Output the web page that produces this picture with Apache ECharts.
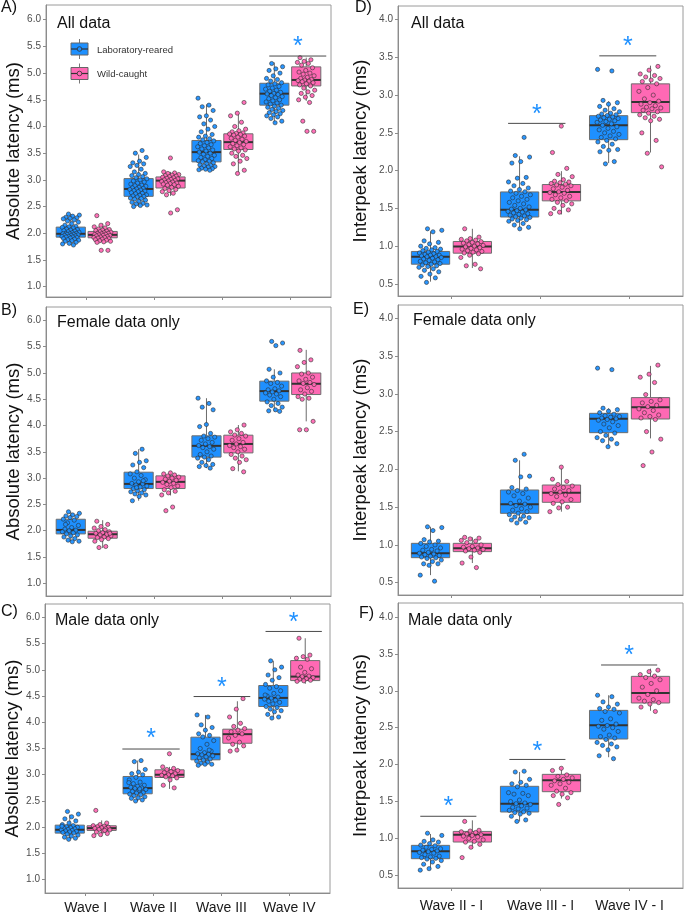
<!DOCTYPE html>
<html><head><meta charset="utf-8">
<script src="https://cdn.jsdelivr.net/npm/echarts@6/dist/echarts.min.js"></script>
<style>html,body{margin:0;padding:0;background:#fff}#c{width:686px;height:916px}</style>
</head><body><div id="c"></div>
<script>
// ---------------- DATA ----------------
const waveCats = ['Wave I', 'Wave II', 'Wave III', 'Wave IV'];
const ipCats = ['Wave II - I', 'Wave III - I', 'Wave IV - I'];
const absTicks = [1.0, 1.5, 2.0, 2.5, 3.0, 3.5, 4.0, 4.5, 5.0, 5.5, 6.0];
const ipTicks = [0.5, 1.0, 1.5, 2.0, 2.5, 3.0, 3.5, 4.0];
const groupNames = ['Laboratory-reared', 'Wild-caught'];
const panelTitles = ['All data', 'Female data only', 'Male data only'];

// box stats per category: [lower whisker, Q1, median, Q3, upper whisker]
const absAllLab  = [[1.78,1.927,1.99,2.115,2.36],[2.50,2.692,2.83,3.024,3.475],[3.18,3.337,3.52,3.738,4.415],[4.07,4.40,4.615,4.81,5.20]];
const absAllWild = [[1.83,1.915,1.97,2.034,2.18],[2.70,2.848,2.986,3.055,3.15],[3.13,3.569,3.707,3.863,4.245],[4.48,4.76,4.872,5.117,5.29]];
const absFemLab  = [[1.79,1.939,2.015,2.218,2.36],[2.57,2.802,2.89,3.113,3.55],[3.19,3.40,3.614,3.805,4.52],[4.27,4.464,4.655,4.845,5.07]];
const absFemWild = [[1.67,1.857,1.933,1.99,2.20],[2.67,2.802,2.929,3.043,3.10],[3.13,3.48,3.65,3.817,4.01],[4.08,4.59,4.795,5.00,5.44]];
const absMaleLab = [[1.77,1.888,1.952,2.04,2.24],[2.50,2.637,2.745,2.967,3.27],[3.17,3.284,3.392,3.716,4.14],[4.09,4.30,4.464,4.70,5.17]];
const absMaleWild= [[1.82,1.939,1.983,2.028,2.13],[2.73,2.948,3.00,3.094,3.15],[3.43,3.60,3.773,3.868,4.40],[4.73,4.794,4.87,5.175,5.60]];
const ipAllLab   = [[0.53,0.761,0.859,0.93,1.195],[1.23,1.386,1.483,1.718,2.19],[2.10,2.41,2.60,2.728,2.92]];
const ipAllWild  = [[0.71,0.907,0.996,1.062,1.23],[1.42,1.60,1.718,1.816,1.993],[2.24,2.768,2.91,3.149,3.39]];
const ipFemLab   = [[0.60,0.831,0.889,1.021,1.24],[1.33,1.418,1.538,1.727,2.12],[2.30,2.486,2.67,2.742,2.81]];
const ipFemWild  = [[0.76,0.911,0.955,1.021,1.10],[1.44,1.564,1.692,1.793,2.04],[2.41,2.667,2.822,2.95,3.37]];
const ipMaleLab  = [[0.58,0.725,0.825,0.906,1.06],[1.23,1.358,1.47,1.706,1.90],[2.10,2.347,2.532,2.735,2.94]];
const ipMaleWild = [[0.86,0.951,1.05,1.095,1.245],[1.54,1.633,1.787,1.868,1.97],[2.73,2.835,2.97,3.196,3.30]];

// individual animals, one array per category
const absAllLabPts = [
  [2.36,2.34,2.32,2.30,2.29,2.28,2.27,2.25,2.23,2.21,2.18,2.15,2.13,2.12,2.11,2.10,2.08,2.07,2.06,2.05,2.04,2.03,2.02,2.01,2.00,2.00,1.99,1.99,1.98,1.98,1.97,1.96,1.96,1.95,1.94,1.94,1.93,1.93,1.92,1.91,1.90,1.89,1.88,1.87,1.86,1.85,1.83,1.81,1.80,1.78],
  [3.55,3.50,3.42,3.35,3.32,3.30,3.27,3.25,3.20,3.15,3.12,3.10,3.08,3.06,3.04,3.02,3.00,2.98,2.96,2.94,2.92,2.90,2.89,2.88,2.86,2.85,2.84,2.83,2.82,2.81,2.80,2.79,2.78,2.76,2.75,2.74,2.72,2.71,2.70,2.69,2.68,2.66,2.65,2.64,2.62,2.60,2.58,2.56,2.55,2.53,2.52,2.50],
  [4.53,4.40,4.37,4.30,4.20,4.18,4.12,4.05,4.00,3.95,3.90,3.85,3.82,3.80,3.77,3.75,3.73,3.70,3.68,3.66,3.64,3.62,3.60,3.58,3.56,3.54,3.52,3.50,3.48,3.46,3.44,3.42,3.40,3.38,3.36,3.35,3.34,3.32,3.30,3.28,3.27,3.26,3.25,3.24,3.22,3.21,3.20,3.19,3.18],
  [5.18,5.12,5.08,5.05,5.00,4.95,4.90,4.88,4.85,4.82,4.80,4.78,4.75,4.72,4.70,4.68,4.66,4.64,4.62,4.61,4.60,4.58,4.56,4.54,4.52,4.50,4.48,4.46,4.44,4.42,4.40,4.38,4.36,4.34,4.32,4.30,4.28,4.26,4.24,4.22,4.20,4.18,4.15,4.10,4.07]
];
const absAllWildPts = [
  [2.33,2.18,2.15,2.12,2.10,2.08,2.07,2.06,2.05,2.04,2.03,2.02,2.01,2.00,2.00,1.99,1.98,1.98,1.97,1.96,1.96,1.95,1.94,1.93,1.92,1.92,1.91,1.90,1.89,1.88,1.87,1.86,1.85,1.84,1.83,1.68,1.68],
  [3.41,3.15,3.13,3.12,3.10,3.09,3.08,3.07,3.06,3.05,3.04,3.03,3.02,3.01,3.00,2.99,2.98,2.97,2.96,2.95,2.94,2.93,2.92,2.91,2.90,2.88,2.86,2.84,2.82,2.80,2.78,2.75,2.72,2.44,2.38],
  [4.45,4.25,4.20,4.08,4.00,3.95,3.92,3.90,3.88,3.87,3.86,3.85,3.84,3.82,3.80,3.78,3.76,3.74,3.72,3.70,3.68,3.66,3.64,3.62,3.60,3.58,3.56,3.54,3.50,3.46,3.44,3.40,3.35,3.30,3.18,3.12],
  [5.29,5.25,5.22,5.20,5.18,5.15,5.10,5.05,5.02,5.00,4.98,4.95,4.92,4.90,4.88,4.87,4.86,4.85,4.84,4.82,4.80,4.78,4.76,4.72,4.68,4.65,4.62,4.58,4.55,4.50,4.45,4.10,3.91,3.91]
];
const absFemLabPts = [
  [2.36,2.33,2.30,2.28,2.27,2.25,2.22,2.20,2.15,2.10,2.06,2.03,2.01,2.00,1.98,1.96,1.94,1.92,1.90,1.88,1.85,1.82,1.80,1.79,2.12],
  [3.55,3.47,3.33,3.30,3.25,3.20,3.12,3.08,3.05,3.00,2.97,2.93,2.90,2.89,2.87,2.85,2.83,2.80,2.78,2.76,2.74,2.72,2.70,2.68,2.65,2.57,2.95,2.82],
  [4.52,4.42,4.35,4.30,4.02,3.98,3.85,3.80,3.78,3.75,3.72,3.68,3.65,3.62,3.60,3.58,3.55,3.50,3.45,3.42,3.40,3.38,3.35,3.30,3.26,3.24,3.22,3.19],
  [5.60,5.57,5.52,5.07,5.00,4.92,4.85,4.82,4.80,4.75,4.70,4.68,4.66,4.64,4.62,4.60,4.58,4.55,4.50,4.45,4.42,4.38,4.35,4.30,4.28,4.27]
];
const absFemWildPts = [
  [2.18,2.12,2.08,2.05,2.02,2.00,1.98,1.96,1.95,1.93,1.92,1.90,1.88,1.87,1.85,1.83,1.80,1.70,1.68,1.95],
  [3.10,3.08,3.06,3.04,3.02,3.00,2.98,2.96,2.94,2.92,2.90,2.88,2.85,2.82,2.78,2.75,2.72,2.68,2.45,2.38],
  [4.01,3.92,3.88,3.85,3.82,3.80,3.75,3.72,3.68,3.65,3.62,3.60,3.58,3.55,3.50,3.45,3.42,3.38,3.35,3.30,3.18,3.12],
  [5.43,5.25,5.20,5.12,5.00,4.98,4.92,4.88,4.85,4.82,4.80,4.78,4.72,4.68,4.65,4.60,4.55,4.52,4.50,4.08,3.92,3.92]
];
const absMaleLabPts = [
  [2.30,2.25,2.20,2.16,2.12,2.08,2.05,2.03,2.01,2.00,1.99,1.98,1.97,1.96,1.95,1.94,1.93,1.92,1.91,1.90,1.89,1.87,1.85,1.83,1.81,1.79,1.77,2.02],
  [3.27,3.25,3.10,3.05,3.02,3.00,2.95,2.90,2.86,2.83,2.80,2.78,2.76,2.75,2.74,2.72,2.70,2.68,2.66,2.65,2.63,2.62,2.60,2.58,2.56,2.55,2.52,2.50,2.85,2.73],
  [4.14,4.10,3.95,3.90,3.85,3.78,3.75,3.72,3.65,3.58,3.50,3.45,3.42,3.40,3.39,3.38,3.36,3.34,3.32,3.30,3.28,3.26,3.24,3.22,3.20,3.20,3.18,3.47],
  [5.17,5.05,5.00,4.90,4.85,4.80,4.72,4.68,4.65,4.60,4.55,4.50,4.48,4.46,4.44,4.42,4.40,4.38,4.35,4.30,4.28,4.25,4.22,4.20,4.15,4.10,4.08,4.52]
];
const absMaleWildPts = [
  [2.32,2.08,2.05,2.03,2.02,2.01,2.00,1.99,1.98,1.97,1.96,1.95,1.93,1.91,1.88,1.86,1.84,1.94],
  [3.40,3.15,3.12,3.10,3.08,3.06,3.04,3.02,3.00,2.99,2.98,2.96,2.94,2.90,2.80,2.75],
  [4.45,4.25,4.10,3.98,3.92,3.88,3.85,3.82,3.78,3.75,3.70,3.62,3.58,3.55,3.47,3.45],
  [5.60,5.28,5.25,5.22,5.20,5.05,5.02,4.95,4.90,4.88,4.87,4.85,4.83,4.82,4.80,4.79,4.78]
];
const ipAllLabPts = [
  [1.23,1.21,1.19,1.07,1.05,1.03,1.00,0.98,0.97,0.96,0.95,0.94,0.93,0.92,0.91,0.90,0.89,0.88,0.88,0.87,0.86,0.86,0.85,0.84,0.83,0.82,0.81,0.80,0.79,0.78,0.77,0.76,0.75,0.74,0.73,0.72,0.70,0.68,0.66,0.63,0.60,0.58,0.52],
  [2.44,2.20,2.18,2.12,2.10,1.91,1.90,1.85,1.83,1.80,1.77,1.75,1.73,1.72,1.70,1.68,1.66,1.64,1.62,1.60,1.58,1.56,1.54,1.52,1.50,1.49,1.48,1.47,1.46,1.45,1.44,1.43,1.42,1.41,1.40,1.39,1.38,1.37,1.36,1.35,1.34,1.33,1.30,1.28,1.25,1.23],
  [3.34,3.32,2.93,2.90,2.88,2.85,2.82,2.80,2.78,2.76,2.75,2.74,2.73,2.72,2.71,2.70,2.69,2.68,2.67,2.66,2.65,2.64,2.62,2.60,2.58,2.56,2.54,2.52,2.50,2.48,2.46,2.44,2.42,2.40,2.38,2.35,2.32,2.28,2.27,2.25,2.12,2.09]
];
const ipAllWildPts = [
  [1.23,1.12,1.10,1.09,1.08,1.07,1.06,1.05,1.04,1.03,1.02,1.01,1.00,0.99,0.98,0.97,0.96,0.95,0.94,0.93,0.92,0.91,0.90,0.88,0.85,0.76,0.74,0.70],
  [2.59,2.24,2.03,1.95,1.92,1.88,1.86,1.85,1.84,1.83,1.82,1.81,1.80,1.78,1.76,1.74,1.72,1.71,1.70,1.68,1.66,1.64,1.62,1.60,1.58,1.56,1.54,1.50,1.48,1.45,1.43],
  [3.38,3.33,3.28,3.26,3.24,3.22,3.20,3.18,3.15,3.10,3.05,3.00,2.95,2.92,2.90,2.88,2.86,2.84,2.83,2.82,2.80,2.78,2.76,2.74,2.72,2.70,2.68,2.66,2.50,2.40,2.23,2.05]
];
const ipFemLabPts = [
  [1.24,1.23,1.19,1.07,1.05,1.04,1.02,1.00,0.98,0.96,0.94,0.93,0.92,0.90,0.89,0.88,0.87,0.86,0.85,0.84,0.83,0.82,0.80,0.78,0.75,0.75,0.73,0.60,0.52],
  [2.20,2.12,1.91,1.90,1.76,1.74,1.72,1.70,1.68,1.65,1.62,1.58,1.55,1.54,1.52,1.50,1.48,1.46,1.44,1.42,1.40,1.38,1.37,1.36,1.34,1.33,1.30,1.29],
  [3.34,3.32,2.81,2.79,2.77,2.75,2.73,2.71,2.70,2.69,2.68,2.67,2.66,2.65,2.63,2.60,2.58,2.55,2.50,2.48,2.45,2.42,2.40,2.38,2.34,2.30]
];
const ipFemWildPts = [
  [1.10,1.09,1.08,1.06,1.05,1.03,1.00,0.98,0.97,0.96,0.95,0.94,0.93,0.92,0.90,0.84,0.76,0.70],
  [2.03,1.87,1.84,1.80,1.78,1.76,1.74,1.72,1.70,1.68,1.66,1.64,1.60,1.57,1.55,1.50,1.49,1.44],
  [3.38,3.26,3.22,3.15,2.99,2.92,2.90,2.88,2.85,2.83,2.80,2.78,2.75,2.72,2.70,2.68,2.66,2.50,2.40,2.23,2.05]
];
const ipMaleLabPts = [
  [1.07,1.04,0.98,0.96,0.95,0.93,0.91,0.90,0.88,0.86,0.85,0.84,0.83,0.82,0.81,0.80,0.78,0.76,0.75,0.74,0.73,0.72,0.70,0.68,0.65,0.62,0.59,0.57],
  [1.91,1.90,1.80,1.76,1.74,1.72,1.70,1.62,1.61,1.60,1.58,1.52,1.50,1.48,1.47,1.46,1.44,1.42,1.41,1.40,1.38,1.36,1.35,1.34,1.33,1.30,1.25,1.23],
  [2.94,2.92,2.85,2.82,2.78,2.76,2.75,2.72,2.70,2.62,2.60,2.55,2.53,2.52,2.50,2.48,2.45,2.40,2.38,2.36,2.34,2.30,2.28,2.26,2.24,2.20,2.12,2.08]
];
const ipMaleWildPts = [
  [1.23,1.11,1.10,1.09,1.08,1.06,1.05,1.04,1.03,1.02,1.00,0.98,0.96,0.95,0.92,0.88,0.74],
  [1.95,1.92,1.86,1.84,1.82,1.80,1.78,1.76,1.74,1.72,1.68,1.64,1.62,1.60,1.58,1.55,1.46],
  [3.28,3.26,3.22,3.20,3.18,3.15,3.10,3.05,3.00,2.95,2.90,2.88,2.86,2.84,2.82,2.78,2.72]
];

// significance brackets: [x from, x to, line level, asterisk level]
const sigAbsAll  = [[3.69,4.53,5.32,5.60]];
const sigAbsMale = [[1.54,2.385,3.49,3.80],[2.59,3.425,4.49,4.77],[3.65,4.48,5.73,6.00]];
const sigIpAll   = [[1.636,2.28,2.626,2.81],[2.66,3.30,3.52,3.72]];
const sigIpMale  = [[0.65,1.28,1.30,1.50],[1.65,2.28,2.07,2.25],[2.68,3.31,3.35,3.55]];

// ---------------- CHART ----------------
const FONT = '"Liberation Sans", Arial, Helvetica, sans-serif';
const BLUE = '#1E90FF', PINK = '#FF69B4';
const DODGE = 0.235, BOX_W = 0.43, JIT = 0.26, STAR_DY = 6;

const panels = [
  {lab:'A)', lx:1, ly:9, sub:panelTitles[0], sx:57, sy:25, cats:waveCats, ticks:absTicks, yName:'Absolute latency (ms)', nameGap:22,
   grid:{left:46, top:5, width:285, height:292}, yMin:0.806, yMax:6.276, labBox:absAllLab, wildBox:absAllWild,
   labPts:absAllLabPts, wildPts:absAllWildPts, sig:sigAbsAll, showX:false},
  {lab:'B)', lx:1, ly:312, sub:panelTitles[1], sx:57, sy:324, cats:waveCats, ticks:absTicks, yName:'Absolute latency (ms)', nameGap:22,
   grid:{left:46, top:307, width:285, height:289}, yMin:0.758, yMax:6.255, labBox:absFemLab, wildBox:absFemWild,
   labPts:absFemLabPts, wildPts:absFemWildPts, sig:[], showX:false},
  {lab:'C)', lx:1, ly:613, sub:panelTitles[2], sx:55, sy:622, cats:waveCats, ticks:absTicks, yName:'Absolute latency (ms)', nameGap:21,
   grid:{left:45, top:604, width:285, height:289}, yMin:0.747, yMax:6.253, labBox:absMaleLab, wildBox:absMaleWild,
   labPts:absMaleLabPts, wildPts:absMaleWildPts, sig:sigAbsMale, showX:true, xMargin:8},
  {lab:'D)', lx:355, ly:9, sub:panelTitles[0], sx:411, sy:25, cats:ipCats, ticks:ipTicks, yName:'Interpeak latency (ms)', nameGap:28,
   grid:{left:398, top:6, width:285, height:290}, yMin:0.34, yMax:4.18, labBox:ipAllLab, wildBox:ipAllWild,
   labPts:ipAllLabPts, wildPts:ipAllWildPts, sig:sigIpAll, showX:false},
  {lab:'E)', lx:353, ly:311, sub:panelTitles[1], sx:413, sy:322, cats:ipCats, ticks:ipTicks, yName:'Interpeak latency (ms)', nameGap:28,
   grid:{left:398, top:305, width:285, height:290}, yMin:0.337, yMax:4.176, labBox:ipFemLab, wildBox:ipFemWild,
   labPts:ipFemLabPts, wildPts:ipFemWildPts, sig:[], showX:false},
  {lab:'F)', lx:359, ly:615, sub:panelTitles[2], sx:408, sy:622, cats:ipCats, ticks:ipTicks, yName:'Interpeak latency (ms)', nameGap:28,
   grid:{left:398, top:603, width:285, height:285}, yMin:0.328, yMax:4.19, labBox:ipMaleLab, wildBox:ipMaleWild,
   labPts:ipMaleLabPts, wildPts:ipMaleWildPts, sig:sigIpMale, showX:true, xMargin:11}
];

function jit(i) { const f = (i * 0.6180339887 + 0.37) % 1; return (f - 0.5) * JIT; }

function boxRender(off, fill) {
  return function (params, api) {
    const x = api.value(0) + off;
    const lo = api.coord([x, api.value(1)]);
    const q1 = api.coord([x, api.value(2)]);
    const md = api.coord([x, api.value(3)]);
    const q3 = api.coord([x, api.value(4)]);
    const hi = api.coord([x, api.value(5)]);
    const hw = api.size([BOX_W, 0])[0] / 2;
    return {type:'group', children:[
      {type:'line', shape:{x1:lo[0], y1:lo[1], x2:q1[0], y2:q1[1]}, style:{stroke:'#6b6b6b', lineWidth:1}},
      {type:'line', shape:{x1:q3[0], y1:q3[1], x2:hi[0], y2:hi[1]}, style:{stroke:'#6b6b6b', lineWidth:1}},
      {type:'rect', shape:{x:q3[0]-hw, y:q3[1], width:2*hw, height:q1[1]-q3[1]}, style:{fill:fill, stroke:'#6e6e6e', lineWidth:1}},
      {type:'line', shape:{x1:md[0]-hw, y1:md[1], x2:md[0]+hw, y2:md[1]}, style:{stroke:'#333', lineWidth:2}}
    ]};
  };
}

function sigRender(params, api) {
  const a = api.coord([api.value(0), api.value(2)]);
  const b = api.coord([api.value(1), api.value(2)]);
  const s = api.coord([(api.value(0) + api.value(1)) / 2, api.value(3)]);
  return {type:'group', children:[
    {type:'line', shape:{x1:a[0], y1:a[1], x2:b[0], y2:b[1]}, style:{stroke:'#4a4a4a', lineWidth:1}},
    {type:'text', x:s[0], y:s[1] + STAR_DY, style:{text:'*', fill:BLUE, fontSize:25, fontFamily:FONT, align:'center', verticalAlign:'middle'}}
  ]};
}

const grids = [], xAxes = [], yAxes = [], series = [], graphics = [];
panels.forEach((p, k) => {
  const n = p.cats.length;
  const catVals = p.cats.map((c, i) => i + 1);
  grids.push(Object.assign({show:true, borderColor:'#9a9a9a', borderWidth:1, backgroundColor:'#fff'}, p.grid));
  xAxes.push({
    type:'value', gridIndex:k, min:0.4, max:n + 0.6,
    splitLine:{show:false},
    axisLine:{show:true, onZero:false, lineStyle:{color:'#8c8c8c', width:1}},
    axisTick:{show:true, customValues:catVals, length:3, lineStyle:{color:'#8c8c8c'}},
    axisLabel:{show:p.showX, customValues:catVals, margin:p.xMargin || 8, fontSize:14, color:'#1a1a1a', fontFamily:FONT,
               formatter:v => p.cats[Math.round(v) - 1] || ''}
  });
  yAxes.push({
    type:'value', gridIndex:k, min:p.yMin, max:p.yMax,
    splitLine:{show:false},
    axisLine:{show:true, onZero:false, lineStyle:{color:'#8c8c8c', width:1}},
    axisTick:{show:true, customValues:p.ticks, length:3, lineStyle:{color:'#8c8c8c'}},
    axisLabel:{show:true, customValues:p.ticks, margin:5, fontSize:10, color:'#4d4d4d', fontFamily:FONT, formatter:v => v.toFixed(1)},
    name:p.yName, nameLocation:'middle', nameRotate:90, nameGap:p.nameGap,
    nameTextStyle:{fontSize:18.5, color:'#111', fontFamily:FONT}
  });
  [[p.labBox, -DODGE, BLUE, groupNames[0]], [p.wildBox, DODGE, PINK, groupNames[1]]].forEach(([box, off, col, nm]) => {
    series.push({
      type:'custom', name:nm, xAxisIndex:k, yAxisIndex:k, z:2, silent:true,
      renderItem:boxRender(off, col),
      encode:{x:0, y:[1,2,3,4,5]},
      data:box.map((s, i) => [i + 1].concat(s))
    });
  });
  [[p.labPts, -DODGE, BLUE, groupNames[0], 0], [p.wildPts, DODGE, PINK, groupNames[1], 11]].forEach(([pts, off, col, nm, seed]) => {
    const data = [];
    pts.forEach((arr, ci) => arr.forEach((v, j) => data.push([ci + 1 + off + jit(j + seed + ci * 7), v])));
    series.push({
      type:'scatter', name:nm, xAxisIndex:k, yAxisIndex:k, z:3, silent:true, symbolSize:4.2,
      itemStyle:{color:col, borderColor:'#2a2a2a', borderWidth:0.6, opacity:0.95},
      data:data
    });
  });
  if (p.sig.length) {
    series.push({
      type:'custom', xAxisIndex:k, yAxisIndex:k, z:4, silent:true, renderItem:sigRender,
      encode:{x:[0,1], y:[2,3]}, data:p.sig
    });
  }
  graphics.push({type:'text', left:p.lx, top:p.ly - 9, style:{text:p.lab, fontSize:16, fill:'#111', fontFamily:FONT}});
  graphics.push({type:'text', left:p.sx, top:p.sy - 9, style:{text:p.sub, fontSize:16, fill:'#111', fontFamily:FONT}});
});

// legend (drawn in panel A)
[[BLUE, groupNames[0], 49], [PINK, groupNames[1], 73.5]].forEach(([col, nm, cy]) => {
  graphics.push({type:'group', children:[
    {type:'line', shape:{x1:79.5, y1:cy - 10, x2:79.5, y2:cy + 10}, style:{stroke:'#777', lineWidth:1}},
    {type:'rect', shape:{x:71, y:cy - 6, width:17, height:12}, style:{fill:col, stroke:'#666', lineWidth:1}},
    {type:'line', shape:{x1:71, y1:cy, x2:88, y2:cy}, style:{stroke:'#333', lineWidth:1.2}},
    {type:'circle', shape:{cx:79.5, cy:cy, r:2.3}, style:{fill:col, stroke:'#333', lineWidth:0.8}},
    {type:'text', x:97, y:cy + 1, style:{text:nm, fontSize:9.5, fill:'#333', fontFamily:FONT, verticalAlign:'middle'}}
  ]});
});

const chart = echarts.init(document.getElementById('c'), null, {renderer:'canvas'});
chart.setOption({
  backgroundColor:'#fff',
  animation:false,
  textStyle:{fontFamily:FONT},
  grid:grids, xAxis:xAxes, yAxis:yAxes, series:series, graphic:graphics
});
</script></body></html>
